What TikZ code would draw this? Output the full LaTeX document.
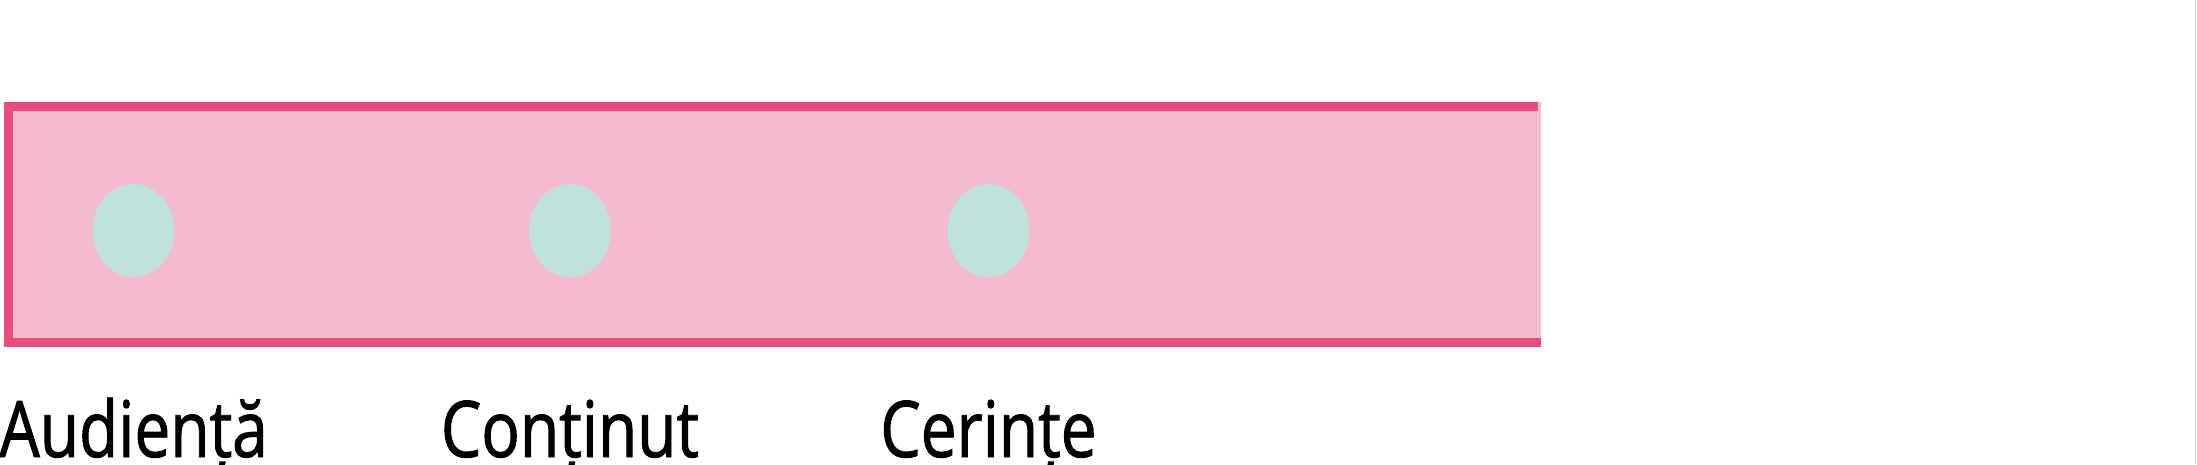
\documentclass[tikz,border=0pt]{standalone}
\usepackage{fontspec}
\usepackage{tikz}
\usetikzlibrary{shapes, positioning}
\newfontfamily\labelfont{Open Sans}[FakeStretch=0.82,FakeBold=1.2]
\definecolor{barpink}{RGB}{234,76,124}
\definecolor{barfill}{RGB}{244,186,206}
\definecolor{mint}{RGB}{191,227,220}

\begin{document}
\begin{tikzpicture}[x=1pt,y=-1pt,
  dot/.style={ellipse,fill=mint,inner sep=0pt,minimum width=82pt,minimum height=93pt},
  lab/.style={anchor=base,inner sep=0pt,font=\labelfont\fontsize{78}{90}\selectfont}]
\useasboundingbox (0,0) rectangle (2197,464);
\fill[barfill] (4,102) rectangle (1541,347);
\draw[barpink,line width=9pt] (1538,106.5) -- (8.5,106.5) -- (8.5,342) -- (1541,342);
\draw[black!22,line width=1pt] (2195.5,0) -- (2195.5,464);
\foreach \x/\name/\txt in {133.5/aud/Audiență, 570/cont/Conținut, 988.5/cer/Cerințe} {
  \node[dot] (\name) at (\x,230.5) {};
  \node[lab] (\name-lab) at (\x,457) {\txt};
}
\end{tikzpicture}
\end{document}
